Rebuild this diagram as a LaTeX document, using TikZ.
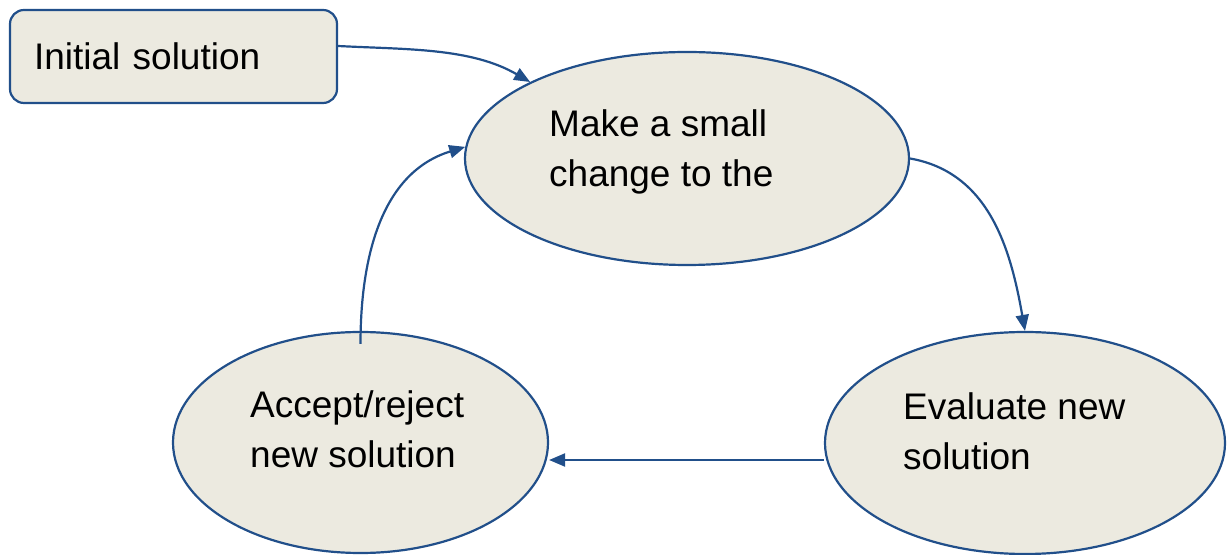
\documentclass[tikz,border=0pt]{standalone}
\usepackage{fontspec}
\setmainfont{Liberation Sans}
\usepackage{tikz}
\usetikzlibrary{shapes.geometric, arrows.meta, positioning, calc}
\definecolor{flowblue}{RGB}{33, 79, 138}
\definecolor{stagefill}{RGB}{236, 234, 224}

\begin{document}
\begin{tikzpicture}[x=1pt, y=1pt,
  stage/.style={ellipse, draw=flowblue, line width=2.2pt, fill=stagefill, inner sep=0pt},
  flow/.style={draw=flowblue, line width=2.2pt, -{Triangle[length=16pt,width=13pt]}},
  txt/.style={anchor=base west, inner sep=0pt, align=left, font=\fontsize{37}{50}\selectfont}]
\useasboundingbox (0,0) rectangle (1228,554);
% Start box
\node[draw=flowblue, line width=2.2pt, fill=stagefill, rounded corners=14pt, minimum height=93pt, text width=279pt, inner xsep=24pt, align=left, font=\fontsize{37}{50}\selectfont] (init) at (173.5,497.5) {Initial solution};
% Stages
\node[stage, minimum width=444pt, minimum height=213pt] (change) at (687,395.5) {};
\node[stage, minimum width=375pt, minimum height=221pt] (accept) at (360.5,111.5) {};
\node[stage, minimum width=400pt, minimum height=222pt] (evaluate) at (1025,111) {};
% Labels (base = last line)
\node[txt] (changetxt) at (549,367) {Make a small\\change to the};
\node[txt] (accepttxt) at (250,86) {Accept/reject\\new solution};
\node[txt] (evaltxt) at (903,84) {Evaluate new\\solution};
% Loop
\draw[flow] ([yshift=10.5pt]init.east) to[out=-3, in=150, looseness=0.9] (change.154);
\draw[flow] (change.east) to[out=-10, in=100] (evaluate.north);
\draw[flow] ([yshift=-17pt]evaluate.west) -- ([yshift=-17pt]evaluate.west -| accept.east);
\draw[flow] ([yshift=-13pt]accept.north) to[out=90, in=197] (change.177);
\end{tikzpicture}
\end{document}
